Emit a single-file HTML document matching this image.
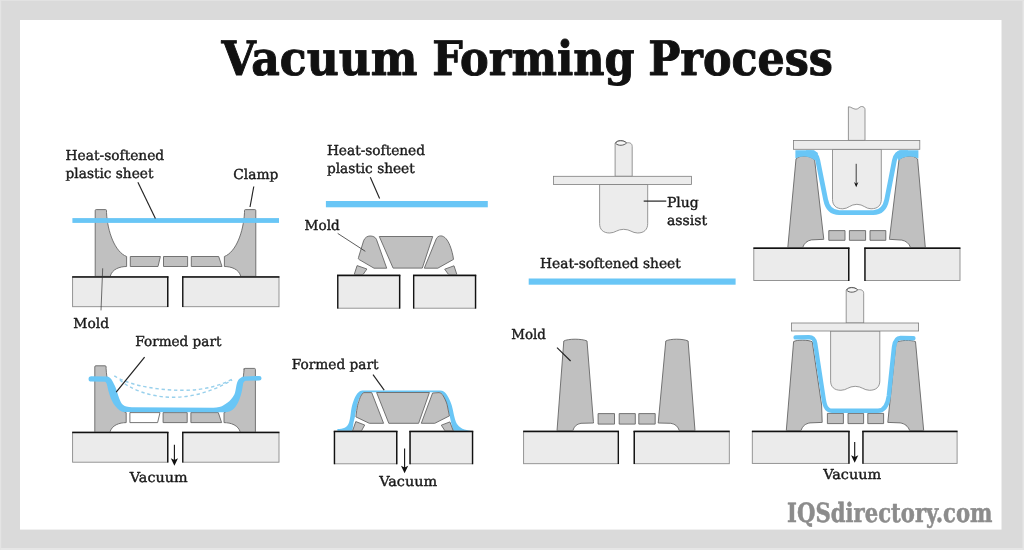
<!DOCTYPE html>
<html lang="en">
<head>
<meta charset="utf-8">
<title>Vacuum Forming Process</title>
<style>
html,body{margin:0;padding:0;background:#d9d9d9;}
body{width:1024px;height:550px;overflow:hidden;}
svg{display:block;}
text{text-rendering:geometricPrecision;}
svg{will-change:transform;}
</style>
</head>
<body>
<svg width="1024" height="550" viewBox="0 0 1024 550">
<rect x="0" y="0" width="1024" height="550" fill="#dadada"/>
<rect x="1022.5" y="0" width="1.5" height="550" fill="#e6e6e6"/>
<rect x="0" y="548" width="1024" height="2" fill="#e6e6e6"/>
<rect x="0" y="0" width="1024" height="1" fill="#e2e2e2"/>
<rect x="0" y="0" width="1.2" height="550" fill="#e4e4e4"/>
<rect x="20" y="20" width="981.5" height="509.6" fill="#ffffff"/>
<text x="221.5" y="74.8" font-family='"DejaVu Serif Condensed", "DejaVu Serif", "Liberation Serif", serif' font-size="47.5" font-weight="bold" fill="#111" stroke="#111" stroke-width="0.9" stroke-linejoin="round" textLength="196" lengthAdjust="spacingAndGlyphs">Vacuum</text>
<text x="432.2" y="74.8" font-family='"DejaVu Serif Condensed", "DejaVu Serif", "Liberation Serif", serif' font-size="47.5" font-weight="bold" fill="#111" stroke="#111" stroke-width="0.9" stroke-linejoin="round" textLength="202.4" lengthAdjust="spacingAndGlyphs">Forming</text>
<text x="648.2" y="74.8" font-family='"DejaVu Serif Condensed", "DejaVu Serif", "Liberation Serif", serif' font-size="47.5" font-weight="bold" fill="#111" stroke="#111" stroke-width="0.9" stroke-linejoin="round" textLength="184.6" lengthAdjust="spacingAndGlyphs">Process</text>
<text x="787.1" y="521.7" font-family='"DejaVu Serif Condensed", "DejaVu Serif", "Liberation Serif", serif' font-size="26.5" font-weight="bold" fill="#8c8c8c" stroke="#8c8c8c" stroke-width="0.5" stroke-linejoin="round" textLength="205.4" lengthAdjust="spacingAndGlyphs">IQSdirectory.com</text>
<g transform="translate(0,0)">
<path d="M95.2,210.6 Q95.2,209.6 96.2,209.6 L105.5,209.6 Q106.5,209.6 106.5,210.6 L106.5,212.5 C107.5,232 115,252 126.6,256.5 L126.6,266.5 C120,266.5 112,269 110.2,276.4 L95.2,276.4 Z" fill="#c0c0c0" stroke="#666666" stroke-width="0.9" />
<path d="M255.8,210.6 Q255.8,209.6 254.8,209.6 L245.5,209.6 Q244.5,209.6 244.5,210.6 L244.5,212.5 C243.5,232 236,252 224.4,256.5 L224.4,266.5 C231,266.5 239,269 240.8,276.4 L255.8,276.4 Z" fill="#c0c0c0" stroke="#666666" stroke-width="0.9" />
<path d="M130.3,256.5 L160.4,256.5 L158,266.5 L130.3,266.5 Z" fill="#c0c0c0" stroke="#666666" stroke-width="0.9" />
<path d="M163.5,256.5 L187.6,256.5 L187.6,266.5 L163.5,266.5 Z" fill="#c0c0c0" stroke="#666666" stroke-width="0.9" />
<path d="M191.3,256.5 L218.7,256.5 L222,266.5 L191.3,266.5 Z" fill="#c0c0c0" stroke="#666666" stroke-width="0.9" />
</g>
<rect x="72.6" y="276.6" width="95.4" height="30.1" fill="#ebebeb" stroke="#8a8a8a" stroke-width="0.9"/>
<line x1="72.19999999999999" y1="277.1" x2="168.4" y2="277.1" stroke="#111" stroke-width="1.5"/>
<line x1="167.7" y1="276.6" x2="167.7" y2="307.09999999999997" stroke="#111" stroke-width="1.35"/>
<rect x="182.5" y="276.6" width="96.5" height="30.1" fill="#ebebeb" stroke="#8a8a8a" stroke-width="0.9"/>
<line x1="182.1" y1="277.1" x2="279.4" y2="277.1" stroke="#111" stroke-width="1.5"/>
<line x1="182.8" y1="276.6" x2="182.8" y2="307.09999999999997" stroke="#111" stroke-width="1.35"/>
<rect x="72.4" y="218.1" width="206.6" height="4.8" fill="#69c6f6"/>
<text x="65.6" y="160.1" font-family='"DejaVu Serif", "Liberation Serif", serif' font-size="13.7" font-weight="normal" fill="#1a1a1a" stroke="#1a1a1a" stroke-width="0.4" stroke-linejoin="round" textLength="98.6" lengthAdjust="spacingAndGlyphs">Heat-softened</text>
<text x="65.6" y="177.7" font-family='"DejaVu Serif", "Liberation Serif", serif' font-size="13.7" font-weight="normal" fill="#1a1a1a" stroke="#1a1a1a" stroke-width="0.4" stroke-linejoin="round" textLength="87.8" lengthAdjust="spacingAndGlyphs">plastic sheet</text>
<text x="233.2" y="179" font-family='"DejaVu Serif", "Liberation Serif", serif' font-size="13.7" font-weight="normal" fill="#1a1a1a" stroke="#1a1a1a" stroke-width="0.4" stroke-linejoin="round" textLength="45.2" lengthAdjust="spacingAndGlyphs">Clamp</text>
<text x="73.3" y="327.5" font-family='"DejaVu Serif", "Liberation Serif", serif' font-size="13.7" font-weight="normal" fill="#1a1a1a" stroke="#1a1a1a" stroke-width="0.4" stroke-linejoin="round" textLength="35.7" lengthAdjust="spacingAndGlyphs">Mold</text>
<line x1="137.9" y1="182.2" x2="155.4" y2="218.4" stroke="#222" stroke-width="1.15"/>
<line x1="253.8" y1="186.5" x2="250" y2="207" stroke="#222" stroke-width="1.15"/>
<line x1="102.7" y1="268.3" x2="101" y2="310.4" stroke="#333" stroke-width="0.7"/>
<g transform="translate(-0.4,156.1)">
<path d="M95.2,210.7 Q95.2,209.7 96.2,209.7 L105.5,209.7 Q106.5,209.7 106.5,210.7 L106.5,212.5 C107.5,232 115,252 126.6,256.5 L126.6,266.5 C120,266.5 112,269 110.2,276.4 L95.2,276.4 Z" fill="#c0c0c0" stroke="#666666" stroke-width="0.9" />
<path d="M255.8,213.3 Q255.8,212.3 254.8,212.3 L245.5,212.3 Q244.5,212.3 244.5,213.3 L244.5,212.5 C243.5,232 236,252 224.4,256.5 L224.4,266.5 C231,266.5 239,269 240.8,276.4 L255.8,276.4 Z" fill="#c0c0c0" stroke="#666666" stroke-width="0.9" />
<path d="M130.3,256.5 L160.4,256.5 L158,266.5 L130.3,266.5 Z" fill="#ffffff" stroke="#666666" stroke-width="0.9" />
<path d="M163.5,256.5 L187.6,256.5 L187.6,266.5 L163.5,266.5 Z" fill="#c0c0c0" stroke="#666666" stroke-width="0.9" />
<path d="M191.3,256.5 L218.7,256.5 L222,266.5 L191.3,266.5 Z" fill="#c0c0c0" stroke="#666666" stroke-width="0.9" />
</g>
<rect x="72.6" y="432.1" width="95.4" height="30.1" fill="#ebebeb" stroke="#8a8a8a" stroke-width="0.9"/>
<line x1="72.19999999999999" y1="432.6" x2="168.4" y2="432.6" stroke="#111" stroke-width="1.5"/>
<line x1="167.7" y1="432.1" x2="167.7" y2="462.59999999999997" stroke="#111" stroke-width="1.35"/>
<rect x="182.5" y="432.1" width="96.5" height="30.1" fill="#ebebeb" stroke="#8a8a8a" stroke-width="0.9"/>
<line x1="182.1" y1="432.6" x2="279.4" y2="432.6" stroke="#111" stroke-width="1.5"/>
<line x1="182.8" y1="432.1" x2="182.8" y2="462.59999999999997" stroke="#111" stroke-width="1.35"/>
<path d="M114.3,375.8 C125,383 150,390.3 183.9,390.3 C205,390.3 222,385 234,378.2" fill="none" stroke="#98d0ec" stroke-width="1.4" stroke-dasharray="3.4,2.8"/>
<path d="M119.9,380 C130,389 150,397.3 172.8,397.3 C195,397.3 215,390 232.2,380" fill="none" stroke="#98d0ec" stroke-width="1.4" stroke-dasharray="3.4,2.8"/>
<path d="M91.2,376.3 L107.3,376.5 C109.5,377 111,378.5 112.1,380.5 C113.5,383 114.5,385 115.5,387.3 C116.5,390 117.3,392.7 118.2,395.5 C119,398 119.8,400.3 120.9,402.3 C122.3,404.8 124,406 126.4,406.6 C128,407 130,407.2 132,407.2 L213.2,407.7 C218,407.5 221,406.7 222.7,405.7 C226,403.8 229,402 230.9,399.6 C233,397 234.3,395 235,392.7 C235.8,390 236,387 236.6,384.6 C237.2,382 238,380.2 239.1,379.1 C240.5,377.6 242.5,376.4 244.6,376.4 L259.2,375.9 A2.35,2.35 0 0 1 259.2,380.6 L245.9,380.7 C244.5,381 243.6,382 243.2,383.2 C242.8,385.5 242.6,387.5 242.1,390 C241.5,393 240.8,395.5 239.8,398.2 C238.8,401 237.5,404 235.7,406.4 C234.3,408.3 232.8,409.8 230.9,410.75 C229,411.7 227.5,412.2 225.5,412.2 L124,411.9 C123,411.9 122.3,411.8 121.6,411.6 C120,410.8 118.7,409.8 117.5,408.4 C115.5,406.5 114,404.6 112.7,402.3 C111.2,399.7 110.2,397 109.3,394.1 C108.5,391.5 107.9,388.7 107.3,385.9 C106.9,384 106.4,382.4 105.2,381.7 L91.2,381.6 A2.65,2.65 0 0 1 91.2,376.3 Z" fill="#69c6f6"/>
<text x="135.3" y="346.3" font-family='"DejaVu Serif", "Liberation Serif", serif' font-size="13.7" font-weight="normal" fill="#1a1a1a" stroke="#1a1a1a" stroke-width="0.4" stroke-linejoin="round" textLength="86.1" lengthAdjust="spacingAndGlyphs">Formed part</text>
<line x1="144.6" y1="357.2" x2="116.2" y2="392.1" stroke="#222" stroke-width="1.2"/>
<line x1="174.4" y1="444.7" x2="174.4" y2="462.8" stroke="#111" stroke-width="1.1"/>
<path d="M170.8,458.3 L174.4,460.1 L178.0,458.3 L174.4,465.8 Z" fill="#111"/>
<text x="129.8" y="482.3" font-family='"DejaVu Serif", "Liberation Serif", serif' font-size="13.7" font-weight="normal" fill="#1a1a1a" stroke="#1a1a1a" stroke-width="0.4" stroke-linejoin="round" textLength="57.7" lengthAdjust="spacingAndGlyphs">Vacuum</text>
<g transform="translate(0,0)">
<path d="M379.3,236.5 L432.7,236.5 L422.3,268.1 L393.1,268.1 Z" fill="#c0c0c0" stroke="#666666" stroke-width="0.9" />
<path d="M376.4,239.3 L386.7,268.2 L374,268.2 L359.2,259.6 C358.3,259 358.2,258.5 358.5,257.5 L363.6,240.8 C364.8,237.5 367.5,236 370,236 C373,236 375.3,237 376.4,239.3 Z" fill="#c0c0c0" stroke="#666666" stroke-width="0.9" />
<path d="M436.3,238.8 L424.3,268.2 L437.8,268.2 L453.5,259.4 C453,255 451.5,249.5 450,245.7 C448.5,242 447.5,240.5 446.1,238.8 C444.5,236.8 442.5,235.9 440.7,235.9 C438.8,235.9 437.2,237 436.3,238.8 Z" fill="#c0c0c0" stroke="#666666" stroke-width="0.9" />
<path d="M357.1,265.6 L366.9,269 L363,274.6 L354.2,274.6 Z" fill="#c0c0c0" stroke="#666666" stroke-width="0.9" />
<path d="M454,265.8 L444.7,269.2 L448.6,274.6 L456.9,274.6 Z" fill="#c0c0c0" stroke="#666666" stroke-width="0.9" />
</g>
<rect x="337.5" y="274.9" width="62.4" height="33.3" fill="#ebebeb" stroke="#8a8a8a" stroke-width="0.9"/>
<line x1="337.1" y1="275.4" x2="400.29999999999995" y2="275.4" stroke="#111" stroke-width="1.5"/>
<line x1="399.59999999999997" y1="274.9" x2="399.59999999999997" y2="308.59999999999997" stroke="#111" stroke-width="1.35"/>
<line x1="337.8" y1="274.9" x2="337.8" y2="308.59999999999997" stroke="#111" stroke-width="1.35"/>
<rect x="413.4" y="274.9" width="62.4" height="33.3" fill="#ebebeb" stroke="#8a8a8a" stroke-width="0.9"/>
<line x1="413.0" y1="275.4" x2="476.2" y2="275.4" stroke="#111" stroke-width="1.5"/>
<line x1="475.5" y1="274.9" x2="475.5" y2="308.59999999999997" stroke="#111" stroke-width="1.35"/>
<line x1="413.7" y1="274.9" x2="413.7" y2="308.59999999999997" stroke="#111" stroke-width="1.35"/>
<rect x="325.9" y="201" width="161.9" height="6.3" fill="#69c6f6"/>
<text x="326.9" y="155.1" font-family='"DejaVu Serif", "Liberation Serif", serif' font-size="13.7" font-weight="normal" fill="#1a1a1a" stroke="#1a1a1a" stroke-width="0.4" stroke-linejoin="round" textLength="98.1" lengthAdjust="spacingAndGlyphs">Heat-softened</text>
<text x="326.9" y="172.7" font-family='"DejaVu Serif", "Liberation Serif", serif' font-size="13.7" font-weight="normal" fill="#1a1a1a" stroke="#1a1a1a" stroke-width="0.4" stroke-linejoin="round" textLength="87.8" lengthAdjust="spacingAndGlyphs">plastic sheet</text>
<line x1="370.3" y1="177.2" x2="379.6" y2="198.5" stroke="#222" stroke-width="1.15"/>
<text x="304.6" y="229.9" font-family='"DejaVu Serif", "Liberation Serif", serif' font-size="13.7" font-weight="normal" fill="#1a1a1a" stroke="#1a1a1a" stroke-width="0.4" stroke-linejoin="round" textLength="35.1" lengthAdjust="spacingAndGlyphs">Mold</text>
<line x1="337.7" y1="233.4" x2="365.3" y2="251.3" stroke="#333" stroke-width="0.8"/>
<path d="M337.4,431.2 L337.4,429.1 C340,428.9 343,428.4 344.7,427.7 C347,426.6 348.3,425 349.1,422.3 C350.3,418.5 350.6,414 351.1,410.5 C351.7,406.5 352.5,403.5 353.6,400.7 C354.6,398 355.8,395.5 357.5,393.3 C359,391.5 360.5,390.4 362.4,390.4 L440.2,390.4 C443,390.4 444.8,391.8 446.1,393.8 C447.8,396 449,398.5 450,400.7 C451.5,404 452.3,407 453,410.5 C453.6,413.5 454.2,416.5 455,419.3 C455.8,422.2 457,424.5 458.9,426.2 C461,428.2 463.5,429.4 466.7,430.1 L472.6,431.2 Z" fill="#69c6f6"/>
<path d="M352.1,432.2 L353.6,422.3 L355,416.4 L356,410.5 L358,401.6 C359,398.5 360,396.5 361.4,394.8 C362.5,393.2 363.8,392.3 365.3,392.3 L439.3,392.3 C441,392.5 442.2,394 443.2,395.8 L447.1,404.6 L449.6,415.4 L451,422.3 L453.5,432.2 Z" fill="#ffffff"/>
<path d="M376.6,392.5 L429.4,392.5 L418.6,423.3 L388.8,423.3 Z" fill="#c0c0c0" stroke="#666666" stroke-width="0.9" />
<path d="M364,392.6 L371.7,392.6 L383.6,423.3 L369.3,423.3 L355.9,416.9 L356.7,410.5 C357.2,407 357.8,404 358.7,401.6 C359.6,398.8 360.4,396.5 361.6,394.8 C362.3,393.6 363,392.8 364,392.6 Z" fill="#c0c0c0" stroke="#666666" stroke-width="0.9" />
<path d="M439,392.6 L432.6,393 L421.3,423.3 L434.8,423.3 L449.4,415.9 L447.1,404.6 C446,401 444.8,398.5 443.2,395.8 C442,393.8 440.8,392.8 439,392.6 Z" fill="#c0c0c0" stroke="#666666" stroke-width="0.9" />
<path d="M355.8,421.6 L364.7,425 L361.4,431 L352.5,431 Z" fill="#c0c0c0" stroke="#666666" stroke-width="0.9" />
<path d="M441.3,425.2 L449.9,421.9 L453.3,431 L445.1,431 Z" fill="#c0c0c0" stroke="#666666" stroke-width="0.9" />
<rect x="334.2" y="431.1" width="62.8" height="32.7" fill="#ebebeb" stroke="#8a8a8a" stroke-width="0.9"/>
<line x1="333.8" y1="431.6" x2="397.4" y2="431.6" stroke="#111" stroke-width="1.5"/>
<line x1="396.7" y1="431.1" x2="396.7" y2="464.2" stroke="#111" stroke-width="1.35"/>
<line x1="334.5" y1="431.1" x2="334.5" y2="464.2" stroke="#111" stroke-width="1.35"/>
<rect x="409.8" y="431.1" width="63.0" height="32.7" fill="#ebebeb" stroke="#8a8a8a" stroke-width="0.9"/>
<line x1="409.40000000000003" y1="431.6" x2="473.2" y2="431.6" stroke="#111" stroke-width="1.5"/>
<line x1="472.5" y1="431.1" x2="472.5" y2="464.2" stroke="#111" stroke-width="1.35"/>
<line x1="410.1" y1="431.1" x2="410.1" y2="464.2" stroke="#111" stroke-width="1.35"/>
<text x="291.8" y="368.9" font-family='"DejaVu Serif", "Liberation Serif", serif' font-size="13.7" font-weight="normal" fill="#1a1a1a" stroke="#1a1a1a" stroke-width="0.4" stroke-linejoin="round" textLength="86.8" lengthAdjust="spacingAndGlyphs">Formed part</text>
<line x1="373" y1="374.6" x2="384.2" y2="390.1" stroke="#222" stroke-width="1.15"/>
<line x1="404.6" y1="448.4" x2="404.6" y2="470.2" stroke="#111" stroke-width="1.1"/>
<path d="M401.0,465.7 L404.6,467.5 L408.20000000000005,465.7 L404.6,473.2 Z" fill="#111"/>
<text x="379.2" y="485.8" font-family='"DejaVu Serif", "Liberation Serif", serif' font-size="13.7" font-weight="normal" fill="#1a1a1a" stroke="#1a1a1a" stroke-width="0.4" stroke-linejoin="round" textLength="58" lengthAdjust="spacingAndGlyphs">Vacuum</text>
<path d="M615.1,176.3 L615.1,143.5 C615.4,141.5 618.1,140.5 620.7,140.5 C623.3000000000001,140.5 625.1,141.5 626.5,142.9 C629.1,142.3 632.2,142.9 632.2,146.5 L632.2,176.3 Z" fill="#ececec" stroke="#7e7e7e" stroke-width="0.8"/>
<path d="M615.6,143.3 C617.1,140.0 623.5,139.9 626.5,142.9 C624.1,145.8 618.1,146.20000000000002 615.6,143.3 Z" fill="#f6f6f6" stroke="#4a4a4a" stroke-width="0.9"/>
<path d="M599.6,184.4 L599.6,223.5 C599.6,229.5 603.1,233 609.701,233 C615.201,233 617.1500000000001,229.3 623.6500000000001,229.3 C630.1500000000001,229.3 632.099,233 637.599,233 C644.2,233 647.7,229.5 647.7,223.5 L647.7,184.4 Z" fill="#ececec" stroke="#7e7e7e" stroke-width="0.8"/>
<rect x="553.6" y="176.3" width="138.0" height="8.1" fill="#ececec" stroke="#7e7e7e" stroke-width="0.8"/>
<text x="666.9" y="207.3" font-family='"DejaVu Serif", "Liberation Serif", serif' font-size="13.7" font-weight="normal" fill="#1a1a1a" stroke="#1a1a1a" stroke-width="0.4" stroke-linejoin="round" textLength="31.9" lengthAdjust="spacingAndGlyphs">Plug</text>
<text x="666.9" y="225.3" font-family='"DejaVu Serif", "Liberation Serif", serif' font-size="13.7" font-weight="normal" fill="#1a1a1a" stroke="#1a1a1a" stroke-width="0.4" stroke-linejoin="round" textLength="40.2" lengthAdjust="spacingAndGlyphs">assist</text>
<line x1="643.7" y1="201.1" x2="666.3" y2="201.1" stroke="#222" stroke-width="1.2"/>
<text x="540.1" y="267.6" font-family='"DejaVu Serif", "Liberation Serif", serif' font-size="13.7" font-weight="normal" fill="#1a1a1a" stroke="#1a1a1a" stroke-width="0.4" stroke-linejoin="round" textLength="140.7" lengthAdjust="spacingAndGlyphs">Heat-softened sheet</text>
<rect x="528.7" y="278.5" width="206.9" height="6.2" fill="#69c6f6"/>
<text x="511.2" y="338.8" font-family='"DejaVu Serif", "Liberation Serif", serif' font-size="13.7" font-weight="normal" fill="#1a1a1a" stroke="#1a1a1a" stroke-width="0.4" stroke-linejoin="round" textLength="34.6" lengthAdjust="spacingAndGlyphs">Mold</text>
<path d="M563.8,341 C568,338.6 582,338.6 587,341 L593.4,421.6 L593.5,423 L581,423.3 C576.5,424 574,426.5 572.8,430.8 L557,430.8 Z" fill="#c0c0c0" stroke="#666666" stroke-width="0.9" />
<path d="M688.1,341 C683,338.6 670,338.6 665.8,341 L658.3,422 L658.2,423 L670.8,423.3 C675.5,424 678,426.5 679.4,430.8 L695,430.8 Z" fill="#c0c0c0" stroke="#666666" stroke-width="0.9" />
<path d="M598.1,413.6 L614.5,413.6 L614.5,424.1 L598.1,424.1 Z" fill="#c0c0c0" stroke="#666666" stroke-width="0.9" />
<path d="M619.2,413.6 L635.3,413.6 L635.3,424.1 L619.2,424.1 Z" fill="#c0c0c0" stroke="#666666" stroke-width="0.9" />
<path d="M638.8,413.6 L655.2,413.6 L655.2,424.1 L638.8,424.1 Z" fill="#c0c0c0" stroke="#666666" stroke-width="0.9" />
<rect x="523.6" y="431" width="95.0" height="32.7" fill="#ebebeb" stroke="#8a8a8a" stroke-width="0.9"/>
<line x1="523.2" y1="431.5" x2="619.0" y2="431.5" stroke="#111" stroke-width="1.5"/>
<line x1="618.3000000000001" y1="431" x2="618.3000000000001" y2="464.09999999999997" stroke="#111" stroke-width="1.35"/>
<rect x="634" y="431" width="95.3" height="32.7" fill="#ebebeb" stroke="#8a8a8a" stroke-width="0.9"/>
<line x1="633.6" y1="431.5" x2="729.6999999999999" y2="431.5" stroke="#111" stroke-width="1.5"/>
<line x1="634.3" y1="431" x2="634.3" y2="464.09999999999997" stroke="#111" stroke-width="1.35"/>
<line x1="557" y1="347.7" x2="570.6" y2="361" stroke="#222" stroke-width="1.15"/>
<path d="M796,159 C798.5,156.6 801,156 804,156 C808,156 811.5,157.2 814.6,159.6 L823.7,238.6 L823.8,239.3 L811.5,239.9 C807,240.6 804,243.5 802.7,247.5 L787.8,247.5 Z" fill="#c0c0c0" stroke="#666666" stroke-width="0.9" />
<path d="M917.6,159 C915,156.6 912.5,156 909.5,156 C905.5,156 902,157.2 899,159.6 L889.5,238.6 L889.4,239.3 L901.8,240.1 C906,240.8 909.2,243.5 910.5,247.5 L925.3,247.5 Z" fill="#c0c0c0" stroke="#666666" stroke-width="0.9" />
<path d="M828.8,230.6 L845,230.6 L845,240.3 L828.8,240.3 Z" fill="#c0c0c0" stroke="#666666" stroke-width="0.9" />
<path d="M849.4,230.6 L865.6,230.6 L865.6,240.3 L849.4,240.3 Z" fill="#c0c0c0" stroke="#666666" stroke-width="0.9" />
<path d="M870,230.6 L885.8,230.6 L885.8,240.3 L870,240.3 Z" fill="#c0c0c0" stroke="#666666" stroke-width="0.9" />
<rect x="753.8" y="247.7" width="95.2" height="32.8" fill="#ebebeb" stroke="#8a8a8a" stroke-width="0.9"/>
<line x1="753.4" y1="248.2" x2="849.4" y2="248.2" stroke="#111" stroke-width="1.5"/>
<line x1="848.7" y1="247.7" x2="848.7" y2="280.9" stroke="#111" stroke-width="1.35"/>
<rect x="864.7" y="247.7" width="95.3" height="32.8" fill="#ebebeb" stroke="#8a8a8a" stroke-width="0.9"/>
<line x1="864.3000000000001" y1="248.2" x2="960.4" y2="248.2" stroke="#111" stroke-width="1.5"/>
<line x1="865.0" y1="247.7" x2="865.0" y2="280.9" stroke="#111" stroke-width="1.35"/>
<path d="M848.4,140.4 L848.4,106.8 C851.0,106.6 853.0,109.2 856.0,109.2 C858.5,109.2 859.5,106.5 861.5,106.5 C863.5,106.5 865,107.5 865,109.5 L865,140.4 Z" fill="#ececec" stroke="#7e7e7e" stroke-width="0.8"/>
<path d="M832.5,149.3 L832.5,199.3 C832.5,205.3 836.0,208.8 842.748,208.8 C848.248,208.8 850.4,204.3 856.9,204.3 C863.4,204.3 865.5519999999999,208.8 871.0519999999999,208.8 C877.8,208.8 881.3,205.3 881.3,199.3 L881.3,149.3 Z" fill="#ececec" stroke="#7e7e7e" stroke-width="0.8"/>
<rect x="793.5" y="140.4" width="126.3" height="8.9" fill="#ececec" stroke="#7e7e7e" stroke-width="0.8"/>
<path d="M795.4,150.2 L814,150.2 L818,153 L815.2,160.6 C811.5,157.6 808,156.4 804,156.4 C800.5,156.4 797.5,157.2 795.4,158.4 Z" fill="#69c6f6"/>
<path d="M918.4,150.2 L899.6,150.2 L895.6,153 L898.4,160.6 C902,157.6 905.5,156.4 909.5,156.4 C913,156.4 916,157.2 918.4,158.4 Z" fill="#69c6f6"/>
<path d="M806,152.6 L810.7,152.6 C815.2,152.6 816.8,156 817.8,160.5 L825.6,199.5 C827,206.5 830.2,212.6 839.2,212.6 L873.2,212.6 C882.2,212.6 885.4,206.5 886.8,199.5 L894.4,160.5 C895.4,156 897,152.6 901.5,152.6 L908,152.6" fill="none" stroke="#69c6f6" stroke-width="4.8" stroke-linejoin="round"/>
<line x1="856.2" y1="163.8" x2="856.2" y2="184.3" stroke="#111" stroke-width="0.8"/>
<path d="M854.0,181.9 L856.2,183.70000000000002 L858.4000000000001,181.9 L856.2,187.3 Z" fill="#111"/>
<path d="M793.6,341.6 C797,339.6 808,339.6 812.3,341.8 L821.6,405 L822.2,422.4 L810,422.9 C805.5,423.6 802.5,426 801,430.6 L786.3,430.6 Z" fill="#c0c0c0" stroke="#666666" stroke-width="0.9" />
<path d="M915.5,341.6 C911,339.8 900,340 896,342.5 L890.6,395 L887.8,422.4 L900.2,422.9 C904.6,423.6 908,426 909.7,430.6 L923.7,430.6 Z" fill="#c0c0c0" stroke="#666666" stroke-width="0.9" />
<path d="M827.4,413.4 L843.4,413.4 L843.4,423.6 L827.4,423.6 Z" fill="#c0c0c0" stroke="#666666" stroke-width="0.9" />
<path d="M848,413.4 L863.6,413.4 L863.6,423.6 L848,423.6 Z" fill="#c0c0c0" stroke="#666666" stroke-width="0.9" />
<path d="M867.8,413.4 L883.6,413.4 L883.6,423.6 L867.8,423.6 Z" fill="#c0c0c0" stroke="#666666" stroke-width="0.9" />
<rect x="752.3" y="431" width="96.9" height="32.4" fill="#ebebeb" stroke="#8a8a8a" stroke-width="0.9"/>
<line x1="751.9" y1="431.5" x2="849.6" y2="431.5" stroke="#111" stroke-width="1.5"/>
<line x1="848.9000000000001" y1="431" x2="848.9000000000001" y2="463.79999999999995" stroke="#111" stroke-width="1.35"/>
<rect x="862.7" y="431" width="94.4" height="32.4" fill="#ebebeb" stroke="#8a8a8a" stroke-width="0.9"/>
<line x1="862.3000000000001" y1="431.5" x2="957.5" y2="431.5" stroke="#111" stroke-width="1.5"/>
<line x1="863.0" y1="431" x2="863.0" y2="463.79999999999995" stroke="#111" stroke-width="1.35"/>
<path d="M846.2,323 L846.2,290.40000000000003 C846.5,288.40000000000003 849.2,287.40000000000003 851.8000000000001,287.40000000000003 C854.4000000000001,287.40000000000003 856.2,288.40000000000003 857.6,289.8 C860.2,289.2 863.7,289.8 863.7,293.40000000000003 L863.7,323 Z" fill="#ececec" stroke="#7e7e7e" stroke-width="0.8"/>
<path d="M846.7,290.2 C848.2,286.90000000000003 854.6,286.8 857.6,289.8 C855.2,292.7 849.2,293.1 846.7,290.2 Z" fill="#f6f6f6" stroke="#4a4a4a" stroke-width="0.9"/>
<path d="M830.6,331 L830.6,380.8 C830.6,386.8 834.1,390.3 840.932,390.3 C846.432,390.3 848.7,386.3 855.2,386.3 C861.7,386.3 863.968,390.3 869.468,390.3 C876.3,390.3 879.8,386.8 879.8,380.8 L879.8,331 Z" fill="#ececec" stroke="#7e7e7e" stroke-width="0.8"/>
<rect x="791.4" y="323" width="127.2" height="8.0" fill="#ececec" stroke="#7e7e7e" stroke-width="0.8"/>
<path d="M795.6,337.4 L809,337.2 C813.5,337.2 814.5,339.5 815.2,343.5 L823.2,396 C824.3,404 825.5,410.8 832,410.8 L878,410.8 C885,410.8 887.5,405 888.8,396 L894,347 C894.8,341 896.5,338 900.5,338 L913.4,338.2" fill="none" stroke="#69c6f6" stroke-width="4.4" stroke-linecap="round" stroke-linejoin="round"/>
<line x1="854.7" y1="442.1" x2="854.7" y2="459.7" stroke="#111" stroke-width="1.1"/>
<path d="M851.1,455.2 L854.7,457.0 L858.3000000000001,455.2 L854.7,462.7 Z" fill="#111"/>
<text x="823.2" y="478.8" font-family='"DejaVu Serif", "Liberation Serif", serif' font-size="13.7" font-weight="normal" fill="#1a1a1a" stroke="#1a1a1a" stroke-width="0.4" stroke-linejoin="round" textLength="58" lengthAdjust="spacingAndGlyphs">Vacuum</text>
</svg>
</body>
</html>
